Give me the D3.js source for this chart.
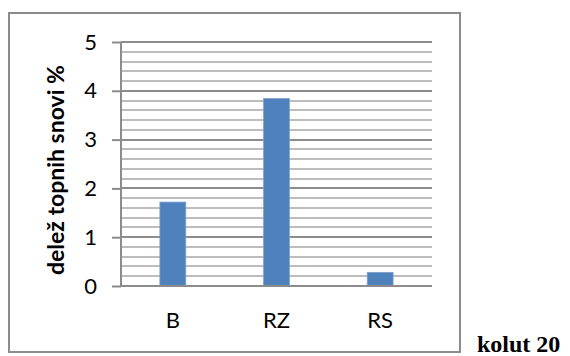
<!DOCTYPE html>
<html>
<head>
<meta charset="utf-8">
<script src="https://cdn.jsdelivr.net/npm/d3@7/dist/d3.min.js"></script>
<style>
  html, body { margin: 0; padding: 0; background: #fff; }
  svg { display: block; }
</style>
</head>
<body>
<div id="chart"></div>
<script>
// Share of soluble solids per sample
const categories = ["B", "RZ", "RS"];
const values = [1.72, 3.84, 0.28];
const yTicks = [0, 1, 2, 3, 4, 5];
const yTitle = "delež topnih snovi %";
const caption = "kolut 20";

const W = 570, H = 356;
const plot = { left: 121, right: 432, top: 42, bottom: 286 };
const labelFont = "Lato, 'Open Sans', sans-serif";

const svg = d3.select("#chart").append("svg")
  .attr("width", W).attr("height", H);

// Outer chart frame
svg.append("rect")
  .attr("x", 9).attr("y", 13)
  .attr("width", 451).attr("height", 339)
  .attr("fill", "#fff")
  .attr("stroke", "#8c8c8c")
  .attr("stroke-width", 2);

const x = d3.scaleBand()
  .domain(categories)
  .range([plot.left, plot.right])
  .paddingInner(0.75)
  .paddingOuter(0.375);

const y = d3.scaleLinear()
  .domain([0, 5])
  .range([plot.bottom, plot.top]);

// Minor gridlines every 0.2
const minor = d3.range(0, 5.0001, 0.2).filter(v => Math.abs(v - Math.round(v)) > 1e-6);
svg.append("g").selectAll("line").data(minor).join("line")
  .attr("x1", plot.left).attr("x2", plot.right)
  .attr("y1", d => Math.round(y(d))).attr("y2", d => Math.round(y(d)))
  .attr("stroke", "#bdbdbd").attr("stroke-width", 2);

// Major gridlines
svg.append("g").selectAll("line").data(yTicks.filter(d => d > 0)).join("line")
  .attr("x1", plot.left).attr("x2", plot.right)
  .attr("y1", d => Math.round(y(d))).attr("y2", d => Math.round(y(d)))
  .attr("stroke", "#8c8c8c").attr("stroke-width", 2);

// Bars
svg.append("g").selectAll("rect").data(categories).join("rect")
  .attr("x", d => x(d))
  .attr("y", (d, i) => y(values[i]))
  .attr("width", x.bandwidth())
  .attr("height", (d, i) => y(0) - y(values[i]))
  .attr("fill", "#4f81bd")
  .attr("stroke", "#7fa3d0")
  .attr("stroke-width", 0.8);

// Y axis
const yAxis = d3.axisLeft(y)
  .tickValues(yTicks)
  .tickSize(9)
  .tickPadding(15)
  .tickFormat(d3.format("d"));
const gy = svg.append("g")
  .attr("transform", `translate(${plot.left},0)`)
  .call(yAxis);
gy.select(".domain").attr("stroke", "#8c8c8c").attr("stroke-width", 2)
  .attr("d", `M0,${plot.top}V${plot.bottom}`);
gy.selectAll(".tick line").attr("stroke", "#8c8c8c").attr("stroke-width", 2);
gy.selectAll(".tick text")
  .style("font-family", labelFont)
  .style("font-size", "22px")
  .attr("fill", "#000");

// X axis baseline and category labels
const xAxis = d3.axisBottom(x).tickSize(0).tickPadding(26);
const gx = svg.append("g")
  .attr("transform", `translate(0,${plot.bottom})`)
  .call(xAxis);
gx.select(".domain").attr("stroke", "#8c8c8c").attr("stroke-width", 2)
  .attr("d", `M${plot.left},0H${plot.right}`);
gx.selectAll(".tick text")
  .style("font-family", labelFont)
  .style("font-size", "22px")
  .attr("fill", "#000");

// Axis title
svg.append("text")
  .attr("transform", `translate(64,170) rotate(-90)`)
  .attr("text-anchor", "middle")
  .style("font-family", labelFont)
  .style("font-weight", "bold")
  .style("font-size", "23px")
  .attr("fill", "#000")
  .text(yTitle);

// Caption beside the frame
svg.append("text")
  .attr("x", 477).attr("y", 352)
  .style("font-family", "'Liberation Serif', 'Times New Roman', serif")
  .style("font-weight", "bold")
  .style("font-size", "24px")
  .attr("fill", "#000")
  .text(caption);
</script>
</body>
</html>
